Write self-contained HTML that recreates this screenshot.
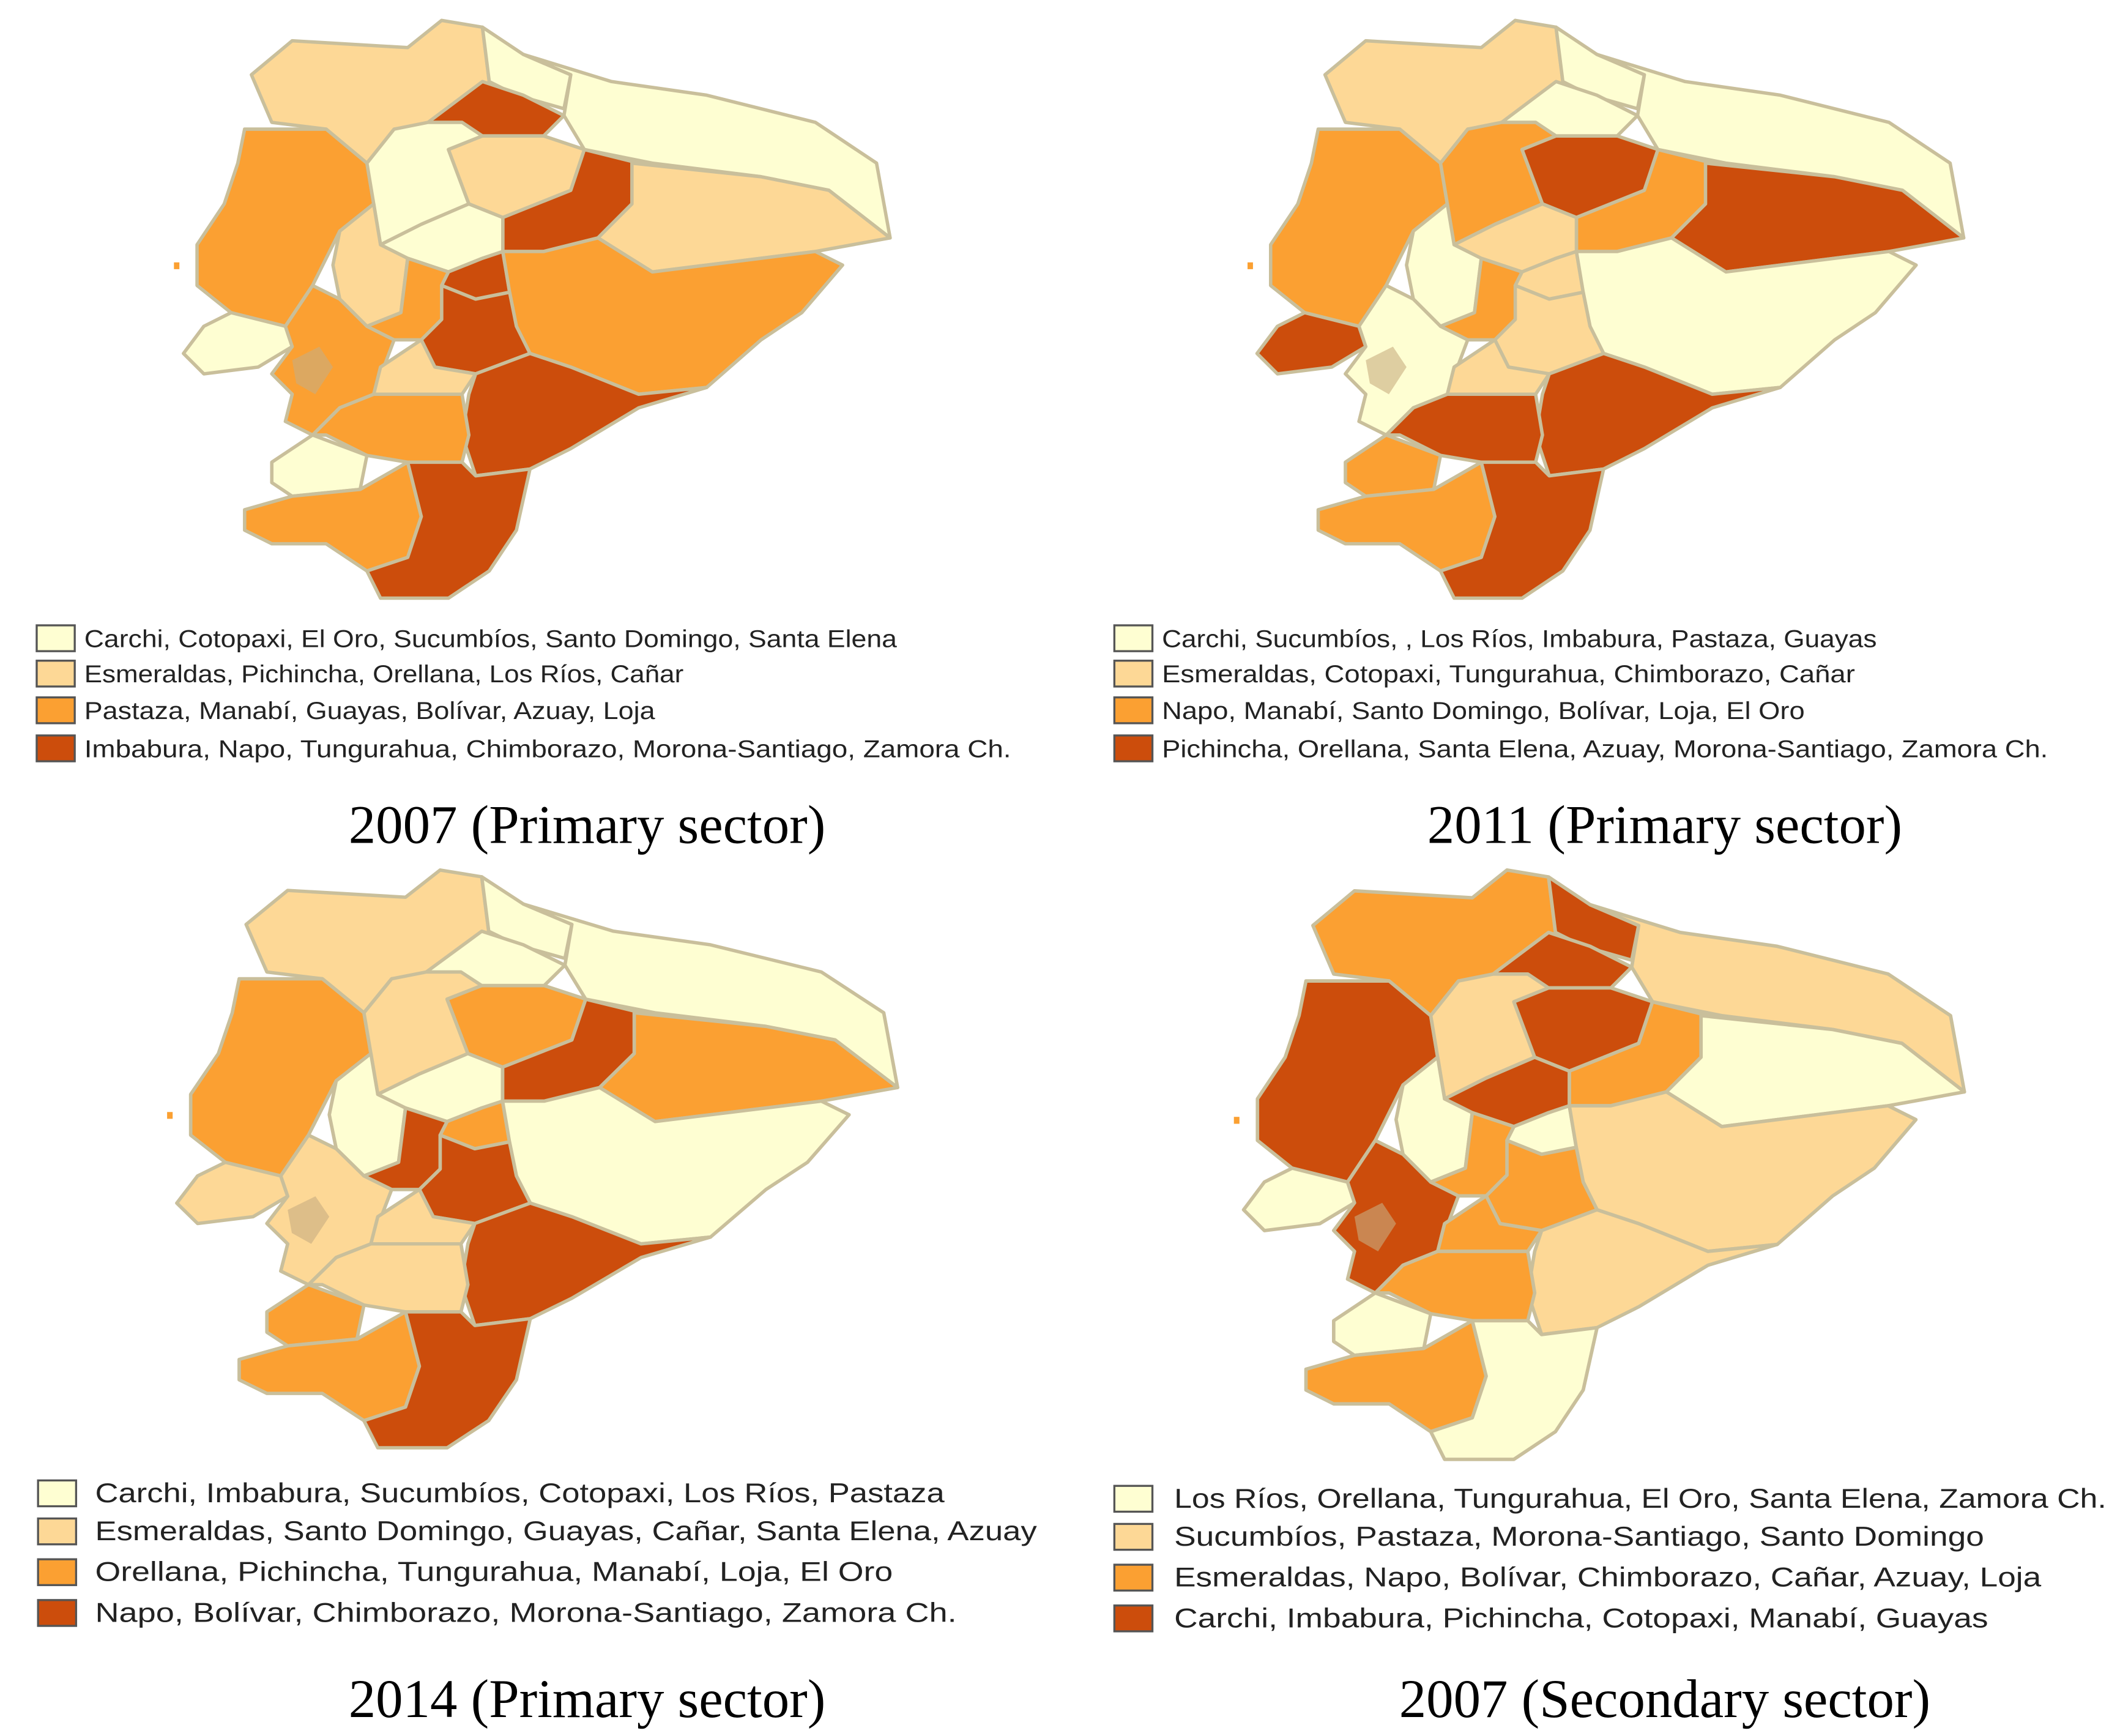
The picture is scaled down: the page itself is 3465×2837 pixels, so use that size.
<!DOCTYPE html>
<html><head><meta charset="utf-8"><style>
html,body{margin:0;padding:0;background:#fff;}
svg{display:block;}
.lg{font-family:"Liberation Sans",sans-serif;fill:#222;}
.tt{font-family:"Liberation Serif",serif;fill:#000;font-size:40px;}
</style></head><body>
<svg id="fig" width="3465" height="2837" viewBox="0 0 1560 1277" preserveAspectRatio="none" xmlns="http://www.w3.org/2000/svg">
<rect width="1560" height="1277" fill="#fff"/>
<g id="maps"></g>
<g id="legends"></g>
</svg>
<script>
// Region names (geometry separately)
const regions = ["Esmeraldas","Carchi","Imbabura","Sucumbíos","Manabí","Santo Domingo","Pichincha","Napo","Orellana","Los Ríos","Cotopaxi","Santa Elena","Guayas","Bolívar","Tungurahua","Pastaza","Chimborazo","Cañar","Morona-Santiago","Azuay","El Oro","Loja","Zamora Ch."];
// class per region (0 light .. 3 dark), one array per map
const class2007P = [1,0,3,0,2,0,1,3,1,1,0,0,2,2,3,2,3,1,3,2,0,2,3];
const class2011P = [1,0,0,0,2,2,3,2,3,0,1,3,0,2,1,0,1,1,3,3,2,2,3];
const class2014P = [1,0,0,0,2,1,2,3,2,0,0,1,1,3,2,0,3,1,3,1,2,2,3];
const class2007S = [2,3,3,1,3,1,3,2,0,0,3,0,3,2,0,1,2,2,1,2,0,2,0];
const palette = ["#FEFED2","#FDD896","#FBA032","#CC4D0C"];
const titles = ["2007 (Primary sector)","2011 (Primary sector)","2014 (Primary sector)","2007 (Secondary sector)"];
const legend2007P = ["Carchi, Cotopaxi, El Oro, Sucumbíos, Santo Domingo, Santa Elena","Esmeraldas, Pichincha, Orellana, Los Ríos, Cañar","Pastaza, Manabí, Guayas, Bolívar, Azuay, Loja","Imbabura, Napo, Tungurahua, Chimborazo, Morona-Santiago, Zamora Ch."];
const legend2011P = ["Carchi, Sucumbíos, , Los Ríos, Imbabura, Pastaza, Guayas","Esmeraldas, Cotopaxi, Tungurahua, Chimborazo, Cañar","Napo, Manabí, Santo Domingo, Bolívar, Loja, El Oro","Pichincha, Orellana, Santa Elena, Azuay, Morona-Santiago, Zamora Ch."];
const legend2014P = ["Carchi, Imbabura, Sucumbíos, Cotopaxi, Los Ríos, Pastaza","Esmeraldas, Santo Domingo, Guayas, Cañar, Santa Elena, Azuay","Orellana, Pichincha, Tungurahua, Manabí, Loja, El Oro","Napo, Bolívar, Chimborazo, Morona-Santiago, Zamora Ch."];
const legend2007S = ["Los Ríos, Orellana, Tungurahua, El Oro, Santa Elena, Zamora Ch.","Sucumbíos, Pastaza, Morona-Santiago, Santo Domingo","Esmeraldas, Napo, Bolívar, Chimborazo, Cañar, Azuay, Loja","Carchi, Imbabura, Pichincha, Cotopaxi, Manabí, Guayas"];

const geom = [
"185,55 215,30 300,35 325,15 355,20 360,60 340,90 290,95 270,120 240,95 200,90",
"355,20 385,40 420,55 415,80 380,70 360,60",
"315,90 355,60 385,70 415,85 400,100 355,100",
"385,40 450,60 520,70 600,90 645,120 655,175 610,140 560,130 480,120 430,110 415,85 420,55",
"180,95 240,95 270,120 275,150 250,170 230,210 210,240 170,230 145,210 145,180 165,150 175,120",
"270,120 290,95 315,90 340,90 355,100 330,110 345,150 310,165 280,180 275,150",
"330,110 355,100 400,100 430,110 420,140 370,160 345,150",
"370,160 420,140 430,110 470,120 465,150 440,175 400,185 370,185",
"465,120 560,130 610,140 655,175 600,185 520,195 480,200 440,175 465,150",
"250,170 275,150 280,180 300,190 295,230 270,240 250,220 245,195",
"300,190 280,180 310,165 345,150 370,160 370,185 355,190 330,200",
"135,260 150,240 170,230 210,240 215,255 190,270 150,275",
"210,240 230,210 250,220 270,240 290,250 275,290 250,300 230,320 210,310 215,290 200,275 215,255",
"295,230 300,190 330,200 325,235 310,250 290,250 270,240",
"330,200 355,190 370,185 375,215 350,220 325,210",
"375,215 370,185 400,185 440,175 480,200 520,195 600,185 620,195 590,230 560,250 520,285 470,290 420,270 390,260 380,240",
"325,235 325,210 350,220 375,215 380,240 390,260 350,275 320,270 310,250",
"275,290 280,270 310,250 320,270 350,275 340,290 300,290",
"390,260 420,270 470,290 520,285 470,300 420,330 390,345 350,350 340,320 345,290 350,275",
"250,300 275,290 300,290 340,290 345,320 340,340 300,340 270,335 240,320 230,320",
"200,340 230,320 270,335 265,360 215,365 200,355",
"180,375 215,365 265,360 300,340 310,380 300,410 270,420 240,400 200,400 180,390",
"300,340 340,340 350,350 390,345 380,390 360,420 330,440 280,440 270,420 300,410 310,380"
];
const NS="http://www.w3.org/2000/svg";
const maps=[
 {cls:class2007P,leg:legend2007P,dx:0,dy:0,sx:1,sy:1,lx:27,tx:62,rows:[470,496,523,551],fs:18,ends:[660,503,482,744],tcx:432,ty:620},
 {cls:class2011P,leg:legend2011P,dx:790,dy:0,sx:1,sy:1,lx:820,tx:855,rows:[470,496,523,551],fs:18,ends:[1381,1365,1328,1507],tcx:1225,ty:620},
 {cls:class2014P,leg:legend2014P,dx:-5,dy:625,sx:1.02,sy:1,lx:28,tx:70,rows:[1099,1127,1157,1187],fs:20,ends:[695,763,657,704],tcx:432,ty:1263},
 {cls:class2007S,leg:legend2007S,dx:780,dy:625,sx:1.02,sy:1.02,lx:820,tx:864,rows:[1103,1131,1161,1191],fs:20,ends:[1550,1460,1502,1463],tcx:1225,ty:1263}
];
const mg=document.getElementById('maps'), lg=document.getElementById('legends');
maps.forEach((m,mi)=>{
  const g=document.createElementNS(NS,'g');
  
  
  g.setAttribute('transform',`translate(${m.dx},${m.dy}) translate(130,15) scale(${m.sx},${m.sy}) translate(-130,-15)`);
  regions.forEach((r,i)=>{
    const p=document.createElementNS(NS,'polygon');
    p.setAttribute('points',geom[i]);
    p.setAttribute('fill',palette[m.cls[i]]);
    p.setAttribute('stroke','#C9BF9B');
    p.setAttribute('stroke-width','2.5');
    p.setAttribute('stroke-linejoin','round');
    
    
    g.appendChild(p);
  });
  const c=document.createElementNS(NS,'rect');
  c.setAttribute('x',128);c.setAttribute('y',193);c.setAttribute('width',4);c.setAttribute('height',5);
  c.setAttribute('fill',palette[2]);
  
  
  g.appendChild(c);
  const d=document.createElementNS(NS,'polygon');
  d.setAttribute('points','215,265 235,255 245,270 232,290 218,282');
  d.setAttribute('fill','#C8AE80');d.setAttribute('opacity','0.6');
  
  
  g.appendChild(d);
  mg.appendChild(g);
  m.leg.forEach((t,k)=>{
    const b=document.createElementNS(NS,'rect');
    b.setAttribute('x',m.lx);b.setAttribute('y',m.rows[k]-10);
    b.setAttribute('width',28);b.setAttribute('height',19);
    b.setAttribute('fill',palette[k]);b.setAttribute('stroke','#555');b.setAttribute('stroke-width','1.5');
    
    
    lg.appendChild(b);
    const tx=document.createElementNS(NS,'text');
    tx.setAttribute('x',m.tx);tx.setAttribute('y',m.rows[k]+6);
    tx.setAttribute('class','lg');tx.setAttribute('font-size',m.fs);
    tx.setAttribute('textLength',m.ends[k]-m.tx);tx.setAttribute('lengthAdjust','spacingAndGlyphs');
    
    
    tx.textContent=t;
    lg.appendChild(tx);
  });
  const tt=document.createElementNS(NS,'text');
  tt.setAttribute('x',m.tcx);tt.setAttribute('y',m.ty);
  tt.setAttribute('text-anchor','middle');tt.setAttribute('class','tt');
  
  
  tt.textContent=titles[mi];
  lg.appendChild(tt);
});
</script>
</body></html>
